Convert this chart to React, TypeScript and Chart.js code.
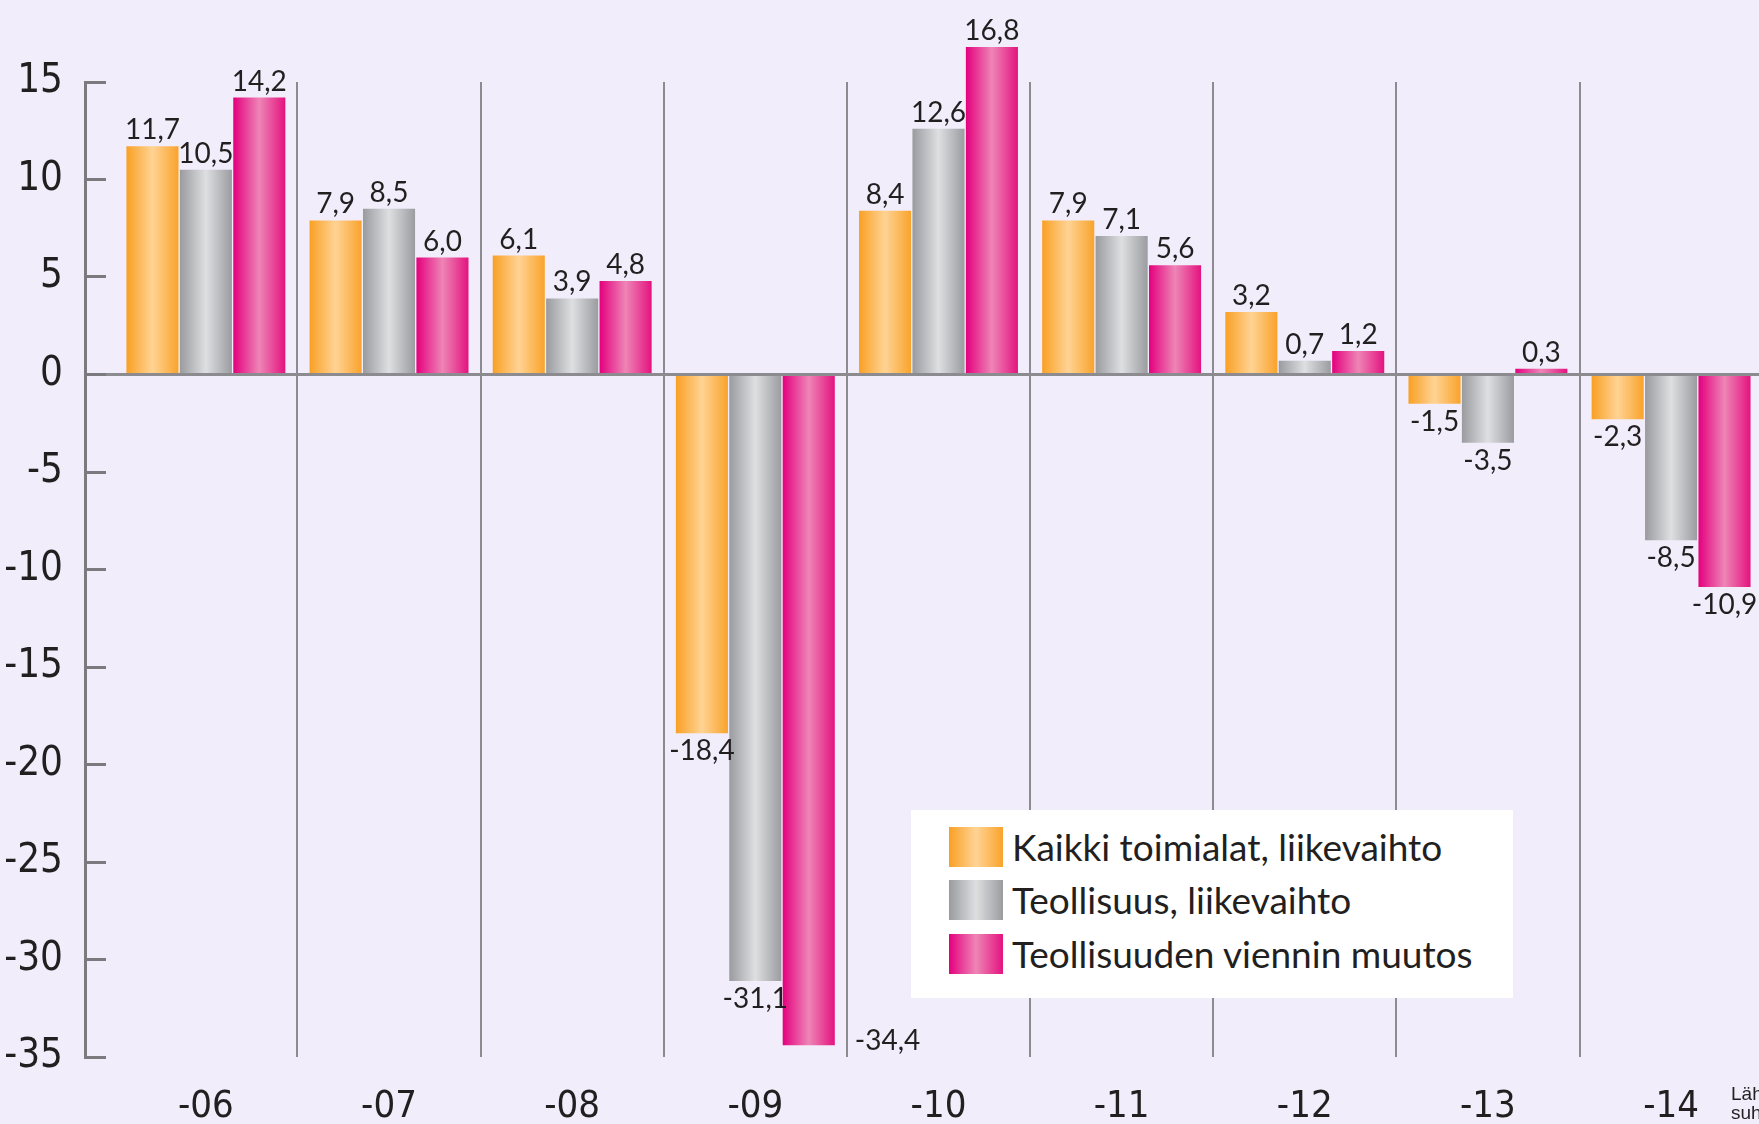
import React, { useEffect, useRef } from 'react';
import { Chart, registerables } from 'chart.js';

Chart.register(...registerables);

// ---- data ----
const categories = ['-06', '-07', '-08', '-09', '-10', '-11', '-12', '-13', '-14'];
const seriesNames = [
  'Kaikki toimialat, liikevaihto',
  'Teollisuus, liikevaihto',
  'Teollisuuden viennin muutos',
];
const kaikkiToimialat = [11.7, 7.9, 6.1, -18.4, 8.4, 7.9, 3.2, -1.5, -2.3];
const teollisuus = [10.5, 8.5, 3.9, -31.1, 12.6, 7.1, 0.7, -3.5, -8.5];
const teollisuudenVienti = [14.2, 6.0, 4.8, -34.4, 16.8, 5.6, 1.2, 0.3, -10.9];
const yTickMin = -35;
const yTickMax = 15;
const yTickStep = 5;
const sourceLines = ['Lähde: Tilastokeskus', 'suhdannetilastot'];

// ---- styles ----
const BG = '#F2EDFA';
const TEXT = '#231F20';
const AXIS = '#7B7B7F';
const GRID = '#8C8C90';
const NARROW = "'Liberation Sans Narrow', 'DejaVu Sans Condensed', 'Roboto', sans-serif";
const LABEL_FONT = "Lato, 'Open Sans', sans-serif";
const gradients = [
  ['#F9A024', '#FFD394', '#F9A32B'],
  ['#999B9F', '#DEDFE1', '#9A9CA0'],
  ['#E4007E', '#EE85B6', '#E4137F'],
];

const fmt = (v: number) => v.toFixed(1).replace('.', ',');

export default function App() {
  const ref = useRef<HTMLCanvasElement>(null);

  useEffect(() => {
    const canvas = ref.current;
    if (!canvas) return;
    const series = [kaikkiToimialat, teollisuus, teollisuudenVienti];

    const gradFor = (stops: string[]) => (c: any) => {
      const el = c.element;
      if (!el || typeof el.x !== 'number' || !isFinite(el.x) || !el.width) return stops[0];
      const g = c.chart.ctx.createLinearGradient(el.x - el.width / 2, 0, el.x + el.width / 2, 0);
      g.addColorStop(0, stops[0]);
      g.addColorStop(0.5, stops[1]);
      g.addColorStop(1, stops[2]);
      return g;
    };

    const valueLabels = {
      id: 'valueLabels',
      afterDatasetsDraw(chart: any) {
        const ctx = chart.ctx;
        ctx.save();
        ctx.font = `28px ${LABEL_FONT}`;
        ctx.fillStyle = TEXT;
        ctx.textBaseline = 'alphabetic';
        series.forEach((vals, di) => {
          const meta = chart.getDatasetMeta(di);
          meta.data.forEach((el: any, i: number) => {
            const v = vals[i];
            const txt = fmt(v);
            if (v >= 0) {
              ctx.textAlign = 'center';
              ctx.fillText(txt, el.x, el.y - 7);
            } else if (el.y + 27 > chart.chartArea.bottom) {
              ctx.textAlign = 'left';
              ctx.fillText(txt, el.x + el.width / 2 + 20, el.y + 5);
            } else {
              ctx.textAlign = 'center';
              ctx.fillText(txt, el.x, el.y + 27);
            }
          });
        });
        ctx.restore();
      },
    };

    const chart = new Chart(canvas, {
      type: 'bar',
      data: {
        datasets: series.map((vals, di) => ({
          label: seriesNames[di],
          data: vals.map((v, i) => ({ x: i, y: v })),
          backgroundColor: gradFor(gradients[di]),
          borderWidth: 0,
          categoryPercentage: 0.875,
          barPercentage: 0.975,
          clip: false as any,
        })),
      },
      options: {
        responsive: false,
        animation: false,
        devicePixelRatio: 1,
        layout: { padding: { top: 82, left: 0, right: 0, bottom: 0 } },
        plugins: {
          legend: { display: false },
          tooltip: { enabled: false },
        },
        scales: {
          x: {
            type: 'linear',
            min: -0.66,
            max: 8.48,
            offset: false,
            afterBuildTicks: (s: any) => {
              s.ticks = categories.map((_, i) => ({ value: i }));
            },
            afterFit: (s: any) => {
              s.height = 62;
            },
            ticks: {
              callback: (v: any) => categories[v] ?? '',
              autoSkip: false,
              maxRotation: 0,
              color: TEXT,
              padding: 27,
              font: { family: NARROW, size: 38 },
            },
            grid: {
              offset: true,
              color: (c: any) => (c.index === 0 || c.index === undefined ? 'rgba(0,0,0,0)' : GRID),
              lineWidth: 2,
              drawTicks: false,
            },
            border: { display: false },
          },
          y: {
            min: yTickMin,
            max: yTickMax,
            afterFit: (s: any) => {
              s.width = 85;
            },
            ticks: {
              stepSize: yTickStep,
              color: TEXT,
              padding: 43,
              font: { family: NARROW, size: 40 },
            },
            grid: {
              color: (c: any) => (c.tick && c.tick.value === 0 ? GRID : 'rgba(0,0,0,0)'),
              lineWidth: 3,
              drawTicks: true,
              tickLength: -21,
              tickColor: AXIS,
              tickWidth: 3,
            },
            border: { display: true, color: AXIS, width: 3 },
          },
        },
      },
      plugins: [valueLabels],
    } as any);
    // second pass so the bar gradients use the laid-out bar positions
    chart.update();
    return () => chart.destroy();
  }, []);

  const rowCenters = [37, 90, 144];

  return (
    <div
      style={{
        position: 'absolute',
        left: 0,
        top: 0,
        width: 1759,
        height: 1124,
        background: BG,
        overflow: 'hidden',
      }}
    >
      <canvas ref={ref} width={1759} height={1124} style={{ display: 'block' }} />
      <div
        style={{
          position: 'absolute',
          left: 911,
          top: 810,
          width: 602,
          height: 188,
          background: '#ffffff',
        }}
      >
        {seriesNames.map((name, i) => (
          <div
            key={name}
            style={{
              position: 'absolute',
              left: 38,
              top: rowCenters[i] - 26,
              height: 52,
              display: 'flex',
              alignItems: 'center',
              whiteSpace: 'nowrap',
            }}
          >
            <div
              style={{
                width: 54,
                height: 40,
                background: `linear-gradient(to right, ${gradients[i][0]}, ${gradients[i][1]}, ${gradients[i][2]})`,
                marginRight: 9,
              }}
            />
            <span style={{ fontFamily: LABEL_FONT, fontSize: 37, color: TEXT, lineHeight: '52px' }}>{name}</span>
          </div>
        ))}
      </div>
      <div
        style={{
          position: 'absolute',
          left: 1731,
          top: 1084,
          fontFamily: "'Liberation Sans', Arial, sans-serif",
          fontSize: 19,
          lineHeight: '19px',
          color: TEXT,
          whiteSpace: 'nowrap',
        }}
      >
        {sourceLines.map((l) => (
          <div key={l}>{l}</div>
        ))}
      </div>
    </div>
  );
}
